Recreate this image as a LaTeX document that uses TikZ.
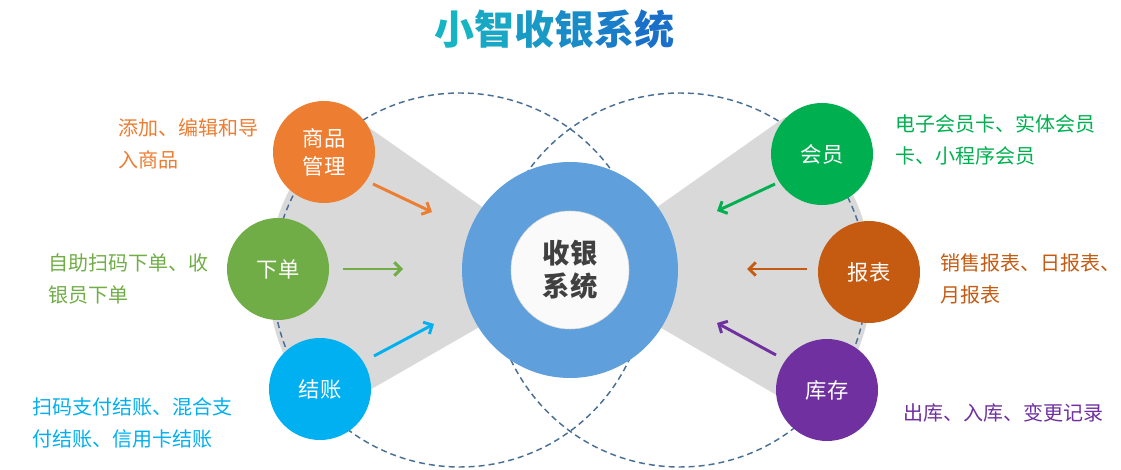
\documentclass[tikz,border=0pt]{standalone}
\usepackage{fontspec}
\setmainfont{Noto Sans CJK SC}
\usetikzlibrary{arrows.meta}
\definecolor{goodsorange}{HTML}{ED7D31}
\definecolor{ordergreen}{HTML}{70AD47}
\definecolor{payblue}{HTML}{00B0F0}
\definecolor{membergreen}{HTML}{00B050}
\definecolor{reportbrown}{HTML}{C55A11}
\definecolor{stockpurple}{HTML}{7030A0}
\definecolor{coreblue}{HTML}{5FA0DC}
\definecolor{wedgegray}{HTML}{D9D9D9}
\definecolor{ringdash}{HTML}{4A6F96}
\definecolor{titleteal}{HTML}{17B4C4}
\definecolor{titleblue}{HTML}{1A70C8}

\begin{document}
\begin{tikzpicture}[
  x=0.75pt, y=-0.75pt,
  mod/.style={circle, minimum size=76.5pt, inner sep=0pt, text=white,
              font=\fontsize{16}{21}\selectfont, align=center},
  note/.style={anchor=west, align=left, inner sep=0pt,
               font=\fontsize{15}{24}\selectfont},
  ring/.style={draw=ringdash, dash pattern=on 4.5pt off 3pt, line width=1.1pt},
  arrow/.style={-{Straight Barb[length=5pt,width=10pt]}, line width=2.2pt},
]
\useasboundingbox (0,0) rectangle (1121,470);

%% Gray wedges
\begin{scope}
  \clip (460,278) circle[radius=144pt];
  \fill[wedgegray] (575,272) -- (264,54) -- (100,54) -- (100,470) -- (248,460) -- cycle;
\end{scope}
\begin{scope}
  \clip (680,278) circle[radius=144pt];
  \fill[wedgegray] (565,272) -- (883,48) -- (1050,48) -- (1050,470) -- (883,457) -- cycle;
\end{scope}

%% Dashed rings
\draw[ring] (460,280) circle[radius=140.25pt];
\draw[ring] (680,280) circle[radius=140.25pt];

%% Title
\node[font=\bfseries\fontsize{30}{30}\selectfont] (title) at (554,29)
  {\textcolor{titleteal}{小}\textcolor{titleblue!20!titleteal}{智}%
   \textcolor{titleblue!40!titleteal}{收}\textcolor{titleblue!60!titleteal}{银}%
   \textcolor{titleblue!80!titleteal}{系}\textcolor{titleblue}{统}};

%% Core
\node[circle, fill=coreblue, minimum size=162pt, inner sep=0pt] (core) at (570,270) {};
\node[circle, fill=white!98!black, draw=black!15, minimum size=88.5pt, inner sep=0pt,
      font=\bfseries\fontsize{20.5}{25}\selectfont, text=black!75, align=center]
  (hub) at (570,270) {收银\\系统};

%% Modules
\node[mod, fill=goodsorange] (goods) at (324,152) {商品\\管理};
\node[mod, fill=ordergreen] (order) at (278,269) {下单};
\node[mod, fill=payblue] (pay) at (320,389) {结账};
\node[mod, fill=membergreen] (member) at (822,154) {会员};
\node[mod, fill=reportbrown] (report) at (869,272) {报表};
\node[mod, fill=stockpurple] (stock) at (827,390) {库存};

%% Notes
\node[note, text=goodsorange] (goodsnote) at (118,144) {添加、编辑和导\\入商品};
\node[note, text=ordergreen] (ordernote) at (48,279) {自助扫码下单、收\\银员下单};
\node[note, text=payblue] (paynote) at (32,423) {扫码支付结账、混合支\\付结账、信用卡结账};
\node[note, text=membergreen] (membernote) at (895,140) {电子会员卡、实体会员\\卡、小程序会员};
\node[note, text=reportbrown] (reportnote) at (940,279) {销售报表、日报表、\\月报表};
\node[note, text=stockpurple] (stocknote) at (903,413) {出库、入库、变更记录};

%% Arrow ends
\coordinate (goodsout) at (373,184);  \coordinate (goodsin) at (432,212);
\coordinate (orderout) at (343,269);  \coordinate (orderin) at (403,269);
\coordinate (payout) at (374,356);    \coordinate (payin) at (434,324);
\coordinate (memberout) at (775,184); \coordinate (memberin) at (717,211);
\coordinate (reportout) at (807,269); \coordinate (reportin) at (747,269);
\coordinate (stockout) at (776,355);  \coordinate (stockin) at (717,323);

%% Arrows
\draw[arrow, goodsorange] (goodsout) -- (goodsin);
\draw[arrow, ordergreen] (orderout) -- (orderin);
\draw[arrow, payblue] (payout) -- (payin);
\draw[arrow, membergreen] (memberout) -- (memberin);
\draw[arrow, reportbrown] (reportout) -- (reportin);
\draw[arrow, stockpurple] (stockout) -- (stockin);

\end{tikzpicture}
\end{document}
